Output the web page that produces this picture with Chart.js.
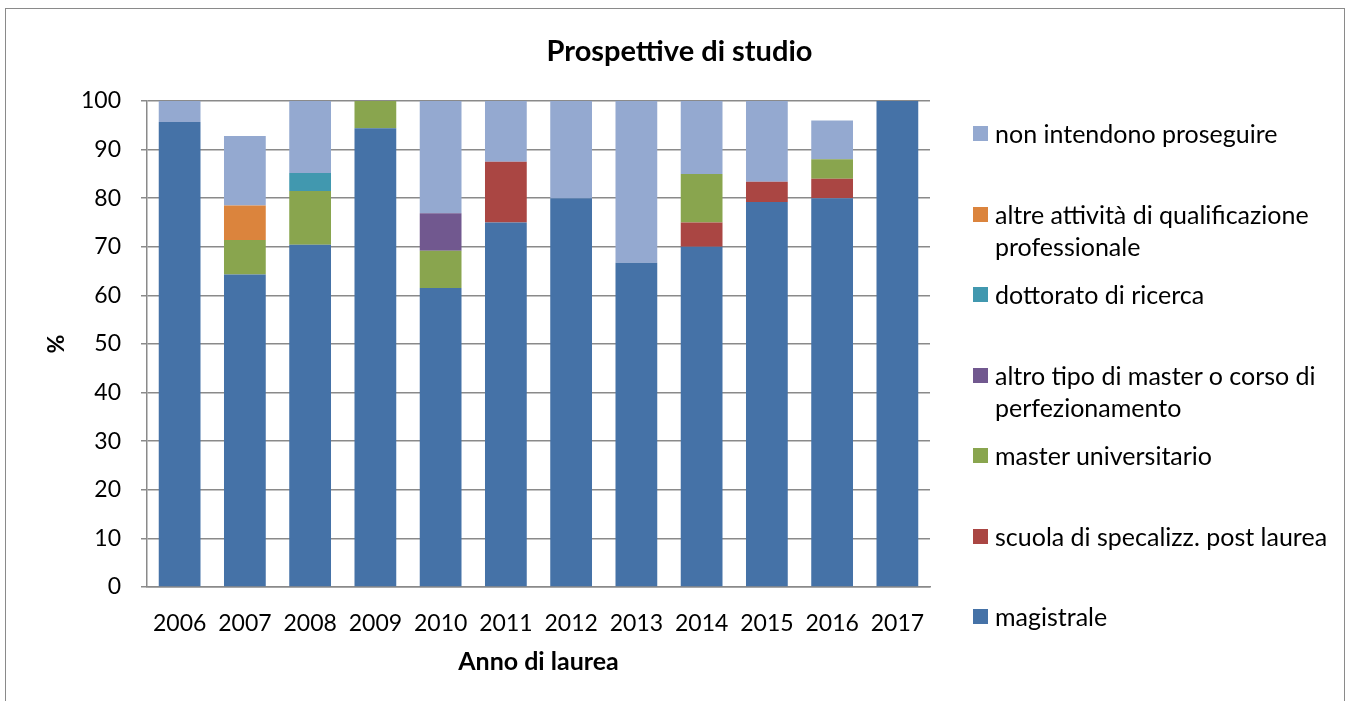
<!DOCTYPE html>
<html>
<head>
<meta charset="utf-8">
<script src="https://cdn.jsdelivr.net/npm/chart.js@4/dist/chart.umd.min.js"></script>
<style>
  html, body { margin: 0; padding: 0; background: #fff; }
  #wrap { position: relative; width: 1352px; height: 701px; overflow: hidden; font-family: Lato, "Open Sans", sans-serif; }
  #frame { position: absolute; left: 5px; top: 8px; width: 1338px; height: 720px; border: 1.5px solid #8a8a8a; }
  #chart { position: absolute; left: 0; top: 0; }
  #title { position: absolute; left: 0; width: 1359px; top: 33px; line-height: 34px; text-align: center; font-weight: bold; font-size: 29px; color: #000; }
  .lg { position: absolute; left: 973px; font-size: 25px; line-height: 32px; color: #000; }
  .lg .sw { position: absolute; left: 0; top: 9px; width: 15px; height: 15px; }
  .lg .tx { position: absolute; left: 22px; top: 0; width: 360px; }
</style>
</head>
<body>
<div id="wrap">
  <div id="frame"></div>
  <canvas id="chart" width="1352" height="701"></canvas>
  <div id="title">Prospettive di studio</div>
  <div id="legend"></div>
</div>
<script>
// --- Data ---
const years = ['2006', '2007', '2008', '2009', '2010', '2011', '2012', '2013', '2014', '2015', '2016', '2017'];

const magistrale = [95.7, 64.3, 70.4, 94.4, 61.5, 75.0, 80.0, 66.7, 70.0, 79.2, 80.0, 100];
const scuolaSpec = [0, 0, 0, 0, 0, 12.5, 0, 0, 5.0, 4.2, 4.0, 0];
const masterUniv = [0, 7.1, 11.1, 5.6, 7.7, 0, 0, 0, 10.0, 0, 4.0, 0];
const altroMaster = [0, 0, 0, 0, 7.7, 0, 0, 0, 0, 0, 0, 0];
const dottorato = [0, 0, 3.7, 0, 0, 0, 0, 0, 0, 0, 0, 0];
const altreAttivita = [0, 7.1, 0, 0, 0, 0, 0, 0, 0, 0, 0, 0];
const nonProseguire = [4.3, 14.3, 14.8, 0, 23.1, 12.5, 20.0, 33.3, 15.0, 16.6, 8.0, 0];

const yTicks = [0, 10, 20, 30, 40, 50, 60, 70, 80, 90, 100];

// --- Series setup (bottom to top) ---
const series = [
    { label: 'magistrale', data: magistrale, color: '#4572A7' },
    { label: 'scuola di specalizz. post laurea', data: scuolaSpec, color: '#AA4643' },
    { label: 'master universitario', data: masterUniv, color: '#89A54E' },
    { label: 'altro tipo di master o corso di perfezionamento', data: altroMaster, color: '#71588F' },
    { label: 'dottorato di ricerca', data: dottorato, color: '#4198AF' },
    { label: 'altre attività di qualificazione professionale', data: altreAttivita, color: '#DB843D' },
    { label: 'non intendono proseguire', data: nonProseguire, color: '#94A9D0' }
];

const gridColor = '#8a8a8a';
const font = 'Lato, "Open Sans", sans-serif';

new Chart(document.getElementById('chart'), {
    type: 'bar',
    data: {
        labels: years,
        datasets: series.map(s => ({
            label: s.label,
            data: s.data,
            backgroundColor: s.color,
            borderWidth: 0,
            categoryPercentage: 1,
            barPercentage: 0.64
        }))
    },
    options: {
        responsive: false,
        animation: false,
        devicePixelRatio: 1,
        layout: { padding: { top: 101, right: 422, bottom: 0, left: 0 } },
        plugins: {
            legend: { display: false },
            tooltip: { enabled: false }
        },
        scales: {
            x: {
                stacked: true,
                grid: { display: false },
                border: { display: true, color: gridColor, width: 1.5 },
                ticks: { color: '#000', font: { family: font, size: 23 }, padding: 15, maxRotation: 0 },
                title: {
                    display: true, text: 'Anno di laurea', color: '#000',
                    font: { family: font, size: 25, weight: 'bold' },
                    padding: { top: 0, bottom: 24 }
                },
                afterFit: scale => { scale.height = 114; }
            },
            y: {
                stacked: true,
                min: 0,
                max: 100,
                afterBuildTicks: scale => { scale.ticks = yTicks.map(v => ({ value: v })); },
                grid: { color: gridColor, lineWidth: 1.5, drawTicks: true, tickLength: 6 },
                border: { display: true, color: gridColor, width: 1.5 },
                ticks: { color: '#000', font: { family: font, size: 23 }, padding: 20 },
                title: {
                    display: true, text: '%', color: '#000',
                    font: { family: font, size: 23, weight: 'bold' },
                    padding: { top: 43, bottom: 0 }
                },
                afterFit: scale => { scale.width = 147; }
            }
        }
    }
});

// --- Legend (top entry = last series); centres of first text lines ---
const legendCentres = [133, 214, 294, 375, 455, 536, 616];
const legendEl = document.getElementById('legend');
series.slice().reverse().forEach((s, i) => {
    const item = document.createElement('div');
    item.className = 'lg';
    item.style.top = (legendCentres[i] - 16) + 'px';
    item.innerHTML = '<div class="sw" style="background:' + s.color + '"></div><div class="tx">' + s.label + '</div>';
    legendEl.appendChild(item);
});
</script>
</body>
</html>
